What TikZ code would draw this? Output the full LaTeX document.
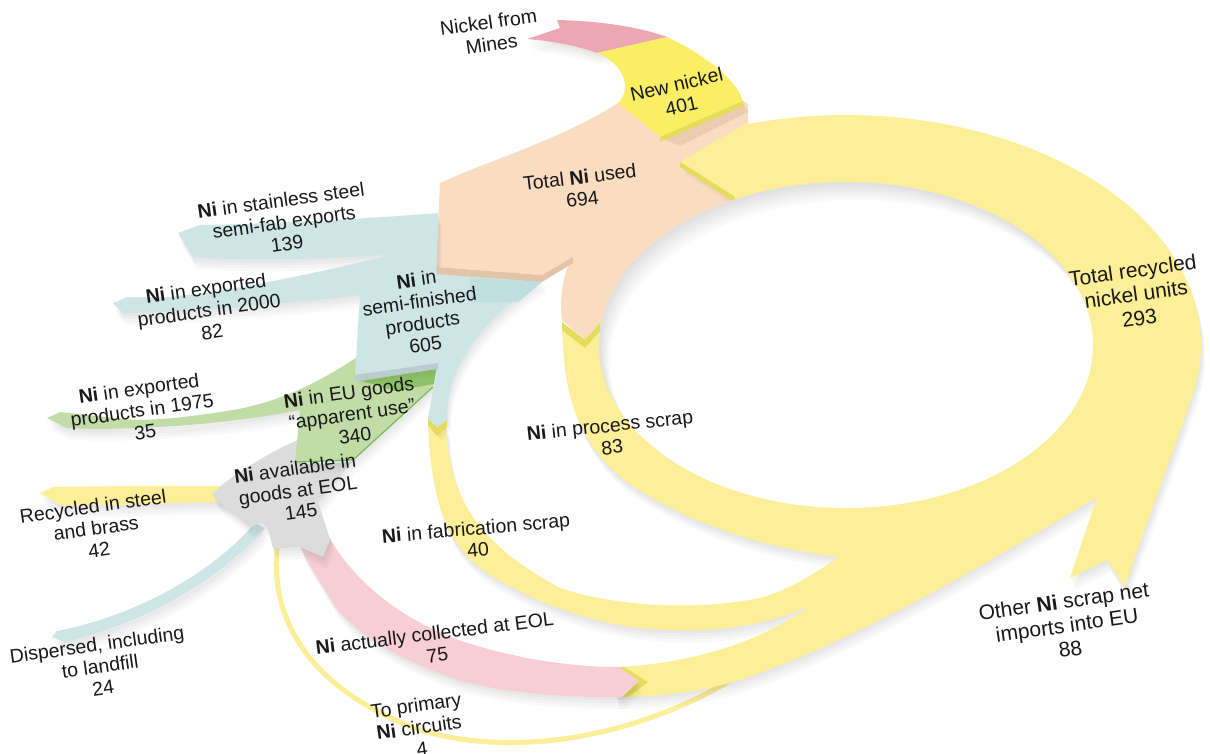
\documentclass[tikz,border=0pt]{standalone}
\usepackage{fontspec}
\setmainfont{Liberation Sans}
\definecolor{ringY}{RGB}{253,238,152}
\definecolor{newY}{RGB}{250,238,100}
\definecolor{lipY}{RGB}{228,220,90}
\definecolor{peach}{RGB}{250,221,193}
\definecolor{peachLip}{RGB}{226,196,168}
\definecolor{tanS}{RGB}{236,205,178}
\definecolor{blueC}{RGB}{206,229,230}
\definecolor{blueLip}{RGB}{185,205,208}
\definecolor{blueShade}{RGB}{190,222,224}
\definecolor{greenC}{RGB}{194,220,167}
\definecolor{greenDark}{RGB}{141,194,104}
\definecolor{greenLine}{RGB}{120,186,90}
\definecolor{greyC}{RGB}{220,220,220}
\definecolor{pinkC}{RGB}{246,206,212}
\definecolor{pinkM}{RGB}{236,168,178}
\begin{document}
\begin{tikzpicture}[x=1pt,y=-1pt,
  lbl/.style={align=center, font=\fontsize{19.5}{22}\selectfont, text=black!90, inner sep=0pt},
  lblbig/.style={lbl, font=\fontsize{21}{24}\selectfont},
  sh/.style={preaction={fill=black, fill opacity=0.022, transform canvas={xshift=#1*0.35pt, yshift=-#1*1pt}}},
  shd/.style={sh=3, sh=6, sh=9, sh=12}]
\useasboundingbox (0,0) rectangle (1210,753);
\fill[white] (0,0) rectangle (1210,753);
% peach: total Ni used
\fill[peach] (440,183) .. controls (490,160) and (560,140) .. (618,103) -- (743,101) -- (748,104) -- (748,123) -- (770,200) -- (660,300) -- (600,323) -- (585,340) -- (562,320) .. controls (559,295) and (564,270) .. (573,257) -- (542,275) -- (436,267) -- cycle;
% thin line to primary circuits
\draw[ringY, line width=5] (277,548) .. controls (270,620) and (310,690) .. (420,730) .. controls (520,760) and (650,735) .. (750,668);
% merged yellow flows and ring
\fill[ringY, shd] (680,162) -- (747,123)
  -- plot[domain=254:375, samples=60] ({846+355*cos(\x)},{345+230*sin(\x)})
  .. controls (1178,440) and (1140,540) .. (1125,587)
  -- (1107,560) -- (1070,578) -- (1097,497)
  .. controls (1000,555) and (860,640) .. (740,680)
  .. controls (700,692) and (660,697) .. (615,697)
  -- (615,667)
  .. controls (680,665) and (760,645) .. (810,605)
  .. controls (770,625) and (720,632) .. (667,630)
  .. controls (600,628) and (540,605) .. (490,575)
  .. controls (450,550) and (432,510) .. (428,425)
  -- (446,425)
  .. controls (449,490) and (470,540) .. (560,588)
  .. controls (620,608) and (700,610) .. (760,598)
  .. controls (790,590) and (820,570) .. (839,557)
  .. controls (760,548) and (680,520) .. (624,480)
  .. controls (575,440) and (563,390) .. (562,322)
  -- (585,340) -- (600,323) -- (735,197) -- cycle;
% hole with soft inner shadow
\fill[white] (846,345) ellipse [x radius=247, y radius=163];
\begin{scope}
  \clip (846,345) ellipse [x radius=247, y radius=163];
  \foreach \d in {3,6,9,12,15,18}
    \fill[black, opacity=0.018, even odd rule] (846,345) ellipse [x radius=265, y radius=180] (846+0.6*\d,345+\d) ellipse [x radius=247, y radius=163];
\end{scope}
\fill[lipY] (680,162) -- (735,197) -- (733,201) -- (680,167) -- cycle;
\fill[lipY] (562,322) -- (585,340) -- (600,323) -- (600,331) -- (585,348) -- (562,330) -- cycle;
% collected at EOL
\fill[lipY] (615,667) -- (624,667) -- (648,682) -- (628,697) -- (615,697) -- cycle;
\fill[pinkC, shd] (300,545) -- (330,538) .. controls (350,575) and (390,612) .. (450,637) .. controls (500,655) and (560,667) .. (619,667) -- (639,681) -- (622,697) .. controls (540,698) and (480,688) .. (450,677) .. controls (400,660) and (350,630) .. (333,603) .. controls (320,580) and (305,560) .. (300,545) -- cycle;
% recycled in steel and brass
\fill[ringY, shd] (230,486) .. controls (160,486) and (100,486) .. (53,487) -- (40,493) -- (62,506) .. controls (110,505) and (170,503) .. (230,502) -- cycle;
% dispersed
\fill[blueC, shd] (255,523) .. controls (215,570) and (140,615) .. (57,631) -- (52,637) -- (65,642) .. controls (150,622) and (225,575) .. (265,528) -- cycle;
% EOL grey
\fill[greyC, shd] (223,484) .. controls (245,468) and (270,452) .. (298,440) -- (300,465) -- (352,462) -- (318,502) -- (330,540) -- (323,557) -- (300,547) -- (282,548) -- (273,548) -- (268,528) -- (262,523) -- (250,527) -- (220,503) -- (212,494) -- cycle;
% EU goods green
\fill[greenC, shd] (365,352) .. controls (330,375) and (290,400) .. (233,410) .. controls (190,417) and (160,420) .. (133,420) -- (60,412) -- (47,418) -- (67,428) .. controls (120,431) and (220,426) .. (300,410) -- (295,462) -- (353,460) -- (433,387) -- (437,369) -- (365,378) -- cycle;
\fill[greenDark] (362,381) -- (436,369) -- (434,384) -- (395,391) -- cycle;
\draw[greenLine, line width=1.2] (295,462) -- (353,460) -- (433,387);
% semi-finished blue
\fill[blueC, shd] (438,213) .. controls (380,218) and (270,224) .. (200,225) -- (178,233) -- (193,257) .. controls (260,262) and (330,258) .. (390,255) .. controls (330,270) and (230,292) .. (167,297) -- (127,297) -- (113,303) -- (123,313) .. controls (200,312) and (300,302) .. (360,295) -- (355,375) -- (438,363) -- (428,418) -- (437,428) -- (447,420) .. controls (445,370) and (480,320) .. (540,282) -- (542,278) -- (437,271) -- cycle;
\fill[blueShade] (470,278) -- (542,282) -- (518,302) -- (470,302) -- cycle;
\fill[blueLip] (355,375) -- (438,363) -- (438,369) -- (355,381) -- cycle;
\fill[lipY] (428,418) -- (437,428) -- (447,420) -- (447,427) -- (437,436) -- (428,425) -- cycle;
\fill[peachLip] (436,267) -- (542,275) -- (573,257) -- (573,263) -- (542,282) -- (437,274) -- cycle;
% nickel from mines and new nickel
\fill[pinkM, shd] (557,20) .. controls (600,21) and (640,27) .. (667,37) -- (597,53) .. controls (575,45) and (550,41) .. (527,39) -- (560,28) -- cycle;
\fill[tanS] (664,139) -- (743,103) -- (748,112) -- (680,146) -- cycle;
\fill[newY] (597,53) -- (667,37) .. controls (705,55) and (735,78) .. (743,101) -- (660,137) -- (618,103) .. controls (632,90) and (625,64) .. (597,53) -- cycle;
\fill[lipY] (660,137) -- (743,101) -- (743,106) -- (660,142) -- cycle;
% labels
\node[lbl, rotate=8] (lmines) at (490,33) {Nickel from\\Mines};
\node[lbl, rotate=13] (lnew) at (679,95) {New nickel\\401};
\node[lbl, rotate=7] (ltot) at (581,188) {Total \textbf{Ni} used\\694};
\node[lbl, rotate=8] (lss) at (284,222) {\textbf{Ni} in stainless steel\\semi-fab exports\\139};
\node[lbl, rotate=8] (l2000) at (209,310) {\textbf{Ni} in exported\\products in 2000\\82};
\node[lbl, rotate=8] (lsemi) at (421,312) {\textbf{Ni} in\\semi-finished\\products\\605};
\node[lbl, rotate=8] (l1975) at (142,410) {\textbf{Ni} in exported\\products in 1975\\35};
\node[lbl, rotate=8] (leu) at (352,414) {\textbf{Ni} in EU goods\\“apparent use”\\340};
\node[lbl, rotate=8] (leol) at (298,490) {\textbf{Ni} available in\\goods at EOL\\145};
\node[lbl, rotate=8] (lrec) at (96,528) {Recycled in steel\\and brass\\42};
\node[lbl, rotate=8] (ldisp) at (100,666) {Dispersed, including\\to landfill\\24};
\node[lbl, rotate=6] (lproc) at (611,436) {\textbf{Ni} in process scrap\\83};
\node[lbl, rotate=5] (lfab) at (477,539) {\textbf{Ni} in fabrication scrap\\40};
\node[lbl, rotate=7] (lcoll) at (436,644) {\textbf{Ni} actually collected at EOL\\75};
\node[lbl, rotate=8] (lprim) at (419,727) {To primary\\\textbf{Ni} circuits\\4};
\node[lblbig, rotate=8] (ltrec) at (1136,294) {Total recycled\\nickel units\\293};
\node[lblbig, rotate=8] (lother) at (1067,625) {Other \textbf{Ni} scrap net\\imports into EU\\88};
\end{tikzpicture}
\end{document}
